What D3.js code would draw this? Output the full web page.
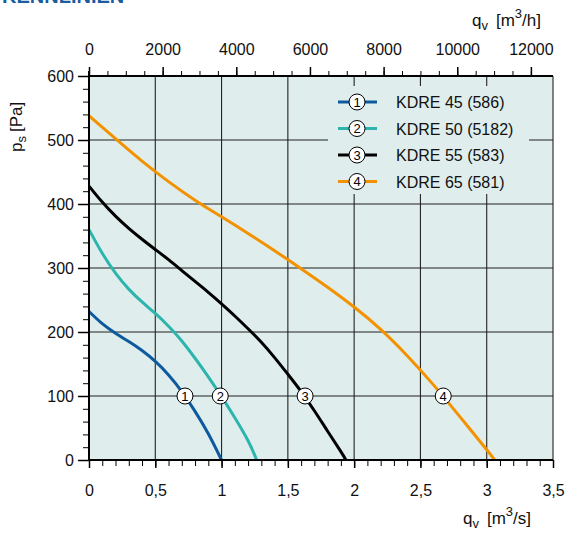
<!DOCTYPE html>
<html><head><meta charset="utf-8">
<script src="https://cdn.jsdelivr.net/npm/d3@7"></script>
<style>body{margin:0;background:#fff}svg{display:block;font-family:"Liberation Sans",Arial,sans-serif}</style>
</head><body><svg id="c" width="566" height="533"></svg>
<script>
const seriesNames = ["KDRE 45 (586)","KDRE 50 (5182)","KDRE 55 (583)","KDRE 65 (581)"];
const seriesColors = ["#0d5a9e","#2db5ad","#000000","#f39200"];
const labelFlows = [0.724, 0.99, 1.63, 2.672]; // flow where curve crosses 100 Pa
const flow1 = [0,0.1,0.2,0.3,0.4,0.5,0.6,0.7,0.8,0.9,1.0];
const ps1   = [232,213,198,185,171,154,133,107,76,41,0];
const flow2 = [0,0.1,0.2,0.3,0.4,0.5,0.6,0.7,0.8,0.9,1.0,1.1,1.2,1.265];
const ps2   = [360,323,292,267,247,229,209,186,159,130,99,66,30,0];
const flow3 = [0,0.1,0.2,0.3,0.4,0.5,0.6,0.7,0.8,0.9,1.0,1.1,1.2,1.3,1.4,1.5,1.6,1.7,1.8,1.9,1.938];
const ps3   = [428,403,381,362,345,329,313,296,279,262,244,225,205,184,160,134,107,77,45,13,0];
const flow4 = [0,0.2,0.4,0.6,0.8,1.0,1.2,1.4,1.6,1.8,2.0,2.2,2.4,2.6,2.8,3.0,3.06];
const ps4   = [538,502,467,435,406,380,354,327,299,270,239,204,163,117,67,16,0];
const xTicks = [0,0.5,1,1.5,2,2.5,3,3.5];
const xTickLabels = ["0","0,5","1","1,5","2","2,5","3","3,5"];
const yTicks = [0,100,200,300,400,500,600];
const topTicks = [0,2000,4000,6000,8000,10000,12000];

const flows=[flow1,flow2,flow3,flow4], pss=[ps1,ps2,ps3,ps4];
const svg=d3.select("#c");
const L=89,R=553,T=76,B=460;
const x=d3.scaleLinear().domain([0,3.5]).range([L,R]);
const y=d3.scaleLinear().domain([0,600]).range([B,T]);
const xh=d3.scaleLinear().domain([0,3.5*3600]).range([L,R]);

// clipped title (only its lower edge is visible, as in the reference)
svg.append("text").attr("x",2).attr("y",3).attr("font-size",20).attr("font-weight","bold").attr("fill","#1a5c9e").text("KENNLINIEN");

svg.append("rect").attr("x",L).attr("y",T).attr("width",R-L).attr("height",B-T).attr("fill","#dfeeed");

// grid
const g=svg.append("g");
xTicks.forEach(v=>g.append("line").attr("x1",x(v)).attr("x2",x(v)).attr("y1",T).attr("y2",B).attr("stroke","#222").attr("stroke-width",1.1));
yTicks.forEach(v=>g.append("line").attr("x1",L).attr("x2",R).attr("y1",y(v)).attr("y2",y(v)).attr("stroke","#222").attr("stroke-width",1.1));

// curves
const line=d3.line().x(d=>x(d[0])).y(d=>y(d[1])).curve(d3.curveNatural);
flows.forEach((f,i)=>{
  svg.append("path").datum(f.map((v,j)=>[v,pss[i][j]])).attr("d",line).attr("fill","none").attr("stroke",seriesColors[i]).attr("stroke-width",3);
});

const FF="Liberation Sans, Arial, sans-serif";
// axes
svg.append("g").attr("transform",`translate(0,${B})`).call(d3.axisBottom(x).tickValues(d3.range(0,3.5001,0.1)).tickSize(6).tickFormat(()=>""))
  .call(a=>{a.select(".domain").remove();a.selectAll("line").attr("stroke","#000");});
svg.append("g").attr("transform",`translate(0,${B})`).call(d3.axisBottom(x).tickValues(xTicks).tickSize(8).tickFormat((d,i)=>xTickLabels[i]))
  .call(a=>{a.select(".domain").remove();a.selectAll("line").attr("stroke","#000").attr("stroke-width",1.5);a.selectAll("text").attr("font-size",16).attr("fill","#111").attr("dy","1.55em").attr("font-family",FF);});
svg.append("g").attr("transform",`translate(${L},0)`).call(d3.axisLeft(y).tickValues(d3.range(0,601,20)).tickSize(6).tickFormat(()=>""))
  .call(a=>{a.select(".domain").remove();a.selectAll("line").attr("stroke","#000");});
svg.append("g").attr("transform",`translate(${L},0)`).call(d3.axisLeft(y).tickValues(yTicks).tickSize(11).tickFormat(d3.format("d")))
  .call(a=>{a.select(".domain").remove();a.selectAll("line").attr("stroke","#000").attr("stroke-width",1.5);a.selectAll("text").attr("font-size",16).attr("fill","#111").attr("x",-15).attr("font-family",FF);});
svg.append("g").attr("transform",`translate(0,${T})`).call(d3.axisTop(xh).tickValues(d3.range(0,12001,500)).tickSize(5).tickFormat(()=>""))
  .call(a=>{a.select(".domain").remove();a.selectAll("line").attr("stroke","#000");});
svg.append("g").attr("transform",`translate(0,${T})`).call(d3.axisTop(xh).tickValues(topTicks).tickSize(9).tickFormat(d3.format("d")))
  .call(a=>{a.select(".domain").remove();a.selectAll("line").attr("stroke","#000").attr("stroke-width",1.5);a.selectAll("text").attr("font-size",16).attr("fill","#111").attr("dy","-0.55em").attr("font-family",FF);});
// axis lines
svg.append("line").attr("x1",L).attr("x2",R).attr("y1",B).attr("y2",B).attr("stroke","#000").attr("stroke-width",2);
svg.append("line").attr("x1",L).attr("x2",R).attr("y1",T).attr("y2",T).attr("stroke","#000").attr("stroke-width",2);
svg.append("line").attr("x1",L).attr("x2",L).attr("y1",T-5).attr("y2",B).attr("stroke","#000").attr("stroke-width",2);

// curve labels
labelFlows.forEach((f,i)=>{
  svg.append("circle").attr("cx",x(f)).attr("cy",y(100)).attr("r",8).attr("fill","#fff").attr("stroke","#000").attr("stroke-width",1);
  svg.append("text").attr("x",x(f)).attr("y",y(100)+4.5).attr("text-anchor","middle").attr("font-size",13).attr("fill","#000").text(i+1);
});

// legend
svg.append("rect").attr("x",328).attr("y",86).attr("width",201).attr("height",108).attr("fill","#dfeeed");
seriesNames.forEach((n,i)=>{
  const yy=102+i*26.5;
  svg.append("line").attr("x1",338).attr("x2",377).attr("y1",yy).attr("y2",yy).attr("stroke",seriesColors[i]).attr("stroke-width",3);
  svg.append("circle").attr("cx",357).attr("cy",yy).attr("r",8).attr("fill","#fff").attr("stroke","#000").attr("stroke-width",1);
  svg.append("text").attr("x",357).attr("y",yy+4.5).attr("text-anchor","middle").attr("font-size",13).text(i+1);
  svg.append("text").attr("x",396).attr("y",yy+6).attr("font-size",16).attr("fill","#111").text(n);
});

// axis titles
function unitTitle(xx,yy,unit){
  const t=svg.append("text").attr("x",xx).attr("y",yy).attr("text-anchor","end").attr("font-size",17).attr("fill","#111");
  t.append("tspan").text("q");t.append("tspan").attr("font-size",13).attr("dy",4).text("v");
  t.append("tspan").attr("dy",-4).attr("dx",8).text("[m");t.append("tspan").attr("font-size",13).attr("dy",-8).text("3");
  t.append("tspan").attr("dy",8).text(unit);
}
unitTitle(531,524,"/s]");
unitTitle(541,26,"/h]");
const t3=svg.append("text").attr("transform","translate(22,152) rotate(-90)").attr("font-size",17).attr("fill","#111");
t3.append("tspan").text("p");t3.append("tspan").attr("font-size",13).attr("dy",4).text("s");
t3.append("tspan").attr("dy",-4).attr("dx",4).text("[Pa]");
</script></body></html>
